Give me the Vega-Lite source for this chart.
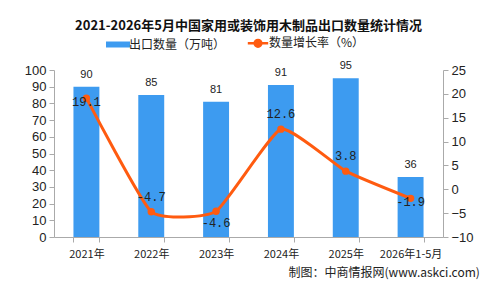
{
  "$schema": "https://vega.github.io/schema/vega-lite/v6.json",
  "width": 389,
  "height": 167,
  "autosize": {"type": "none"},
  "padding": {"left": 54, "top": 70, "right": 39, "bottom": 47},
  "background": "white",
  "config": {
    "view": {"stroke": null},
    "font": "Noto Sans CJK SC",
    "axis": {"grid": false, "domainColor": "#aaaaaa", "tickColor": "#aaaaaa", "labelColor": "#222222"}
  },
  "title": {
    "text": "2021-2026年5月中国家用或装饰用木制品出口数量统计情况",
    "font": "Noto Sans CJK SC",
    "fontSize": 13,
    "fontWeight": "bold",
    "color": "#111111",
    "anchor": "middle",
    "offset": 4
  },
  "data": {
    "values": [
      {"period": "2021年", "qty": 90, "rate": 19.1},
      {"period": "2022年", "qty": 85, "rate": -4.7},
      {"period": "2023年", "qty": 81, "rate": -4.6},
      {"period": "2024年", "qty": 91, "rate": 12.6},
      {"period": "2025年", "qty": 95, "rate": 3.8},
      {"period": "2026年1-5月", "qty": 36, "rate": -1.9}
    ]
  },
  "encoding": {
    "x": {
      "field": "period",
      "type": "nominal",
      "sort": null,
      "scale": {"paddingInner": 0.6, "paddingOuter": 0.3},
      "axis": {
        "labelAngle": 0,
        "labelFontSize": 11,
        "labelPadding": 6,
        "tickBand": "extent",
        "tickSize": 5,
        "title": "制图：中商情报网(www.askci.com)",
        "titleFontSize": 12,
        "titleFontWeight": "normal",
        "titleColor": "#222222",
        "titleAlign": "left",
        "titleAnchor": "start",
        "titleBaseline": "middle",
        "titleX": 234,
        "titleY": 35
      }
    }
  },
  "layer": [
    {
      "mark": {"type": "bar", "color": "#3D9BF0"},
      "encoding": {
        "y": {
          "field": "qty",
          "type": "quantitative",
          "scale": {"domain": [0, 100]},
          "axis": {"title": null, "values": [0, 10, 20, 30, 40, 50, 60, 70, 80, 90, 100], "labelFontSize": 13, "labelFont": "Liberation Sans", "tickSize": 5, "labelPadding": 3}
        },
        "color": {
          "datum": "出口数量（万吨）",
          "type": "nominal",
          "scale": {"domain": ["出口数量（万吨）", "数量增长率（%）"], "range": ["#3D9BF0", "#FF5B10"]},
          "legend": {
            "orient": "none",
            "legendX": 58,
            "legendY": -33,
            "direction": "horizontal",
            "title": null,
            "labelFontSize": 12,
            "labelColor": "#222222",
            "labelOffset": 5,
            "columnPadding": 16,
            "symbolSize": 576,
            "encode": {
              "symbols": {
                "update": {
                  "shape": {"signal": "datum.value == '出口数量（万吨）' ? 'M-1,-0.25H1V0.25H-1Z' : 'M-0.85,0H0.85M0.28,0A0.28,0.28 0 1,1 -0.28,0A0.28,0.28 0 1,1 0.28,0Z'"},
                  "fill": {"signal": "datum.value == '出口数量（万吨）' ? '#3D9BF0' : '#FF5B10'"},
                  "stroke": {"signal": "datum.value == '出口数量（万吨）' ? '#3D9BF0' : '#FF5B10'"},
                  "strokeWidth": {"signal": "datum.value == '出口数量（万吨）' ? 0 : 2.5"},
                  "opacity": {"value": 1}
                }
              }
            }
          }
        }
      }
    },
    {
      "mark": {"type": "text", "baseline": "bottom", "dy": -7, "fontSize": 11, "font": "Liberation Sans", "color": "#222222"},
      "encoding": {
        "y": {"field": "qty", "type": "quantitative", "scale": {"domain": [0, 100]}, "axis": null},
        "text": {"field": "qty", "type": "nominal"}
      }
    },
    {
      "mark": {"type": "line", "interpolate": "cardinal", "tension": 0.55, "strokeWidth": 3, "color": "#FF5B10"},
      "encoding": {
        "y": {
          "field": "rate",
          "type": "quantitative",
          "scale": {"domain": [-10, 25]},
          "axis": {"orient": "right", "title": null, "values": [-10, -5, 0, 5, 10, 15, 20, 25], "labelFontSize": 13, "labelFont": "Liberation Sans", "tickSize": 5, "labelPadding": 3}
        },
        "color": {"datum": "数量增长率（%）", "type": "nominal"}
      }
    },
    {
      "mark": {"type": "point", "filled": true, "size": 55, "opacity": 1, "color": "#FF5B10"},
      "encoding": {
        "y": {"field": "rate", "type": "quantitative", "scale": {"domain": [-10, 25]}, "axis": null}
      }
    },
    {
      "transform": [{"filter": {"field": "period", "oneOf": ["2022年", "2024年", "2025年"]}}],
      "mark": {"type": "text", "baseline": "middle", "dy": -15, "fontSize": 12, "font": "Liberation Mono", "color": "#222222"},
      "encoding": {
        "y": {"field": "rate", "type": "quantitative", "scale": {"domain": [-10, 25]}, "axis": null},
        "text": {"field": "rate", "type": "nominal"}
      }
    },
    {
      "transform": [{"filter": {"field": "period", "oneOf": ["2021年", "2026年1-5月"]}}],
      "mark": {"type": "text", "baseline": "middle", "dy": 4, "fontSize": 12, "font": "Liberation Mono", "color": "#222222"},
      "encoding": {
        "y": {"field": "rate", "type": "quantitative", "scale": {"domain": [-10, 25]}, "axis": null},
        "text": {"field": "rate", "type": "nominal"}
      }
    },
    {
      "transform": [{"filter": {"field": "period", "equal": "2023年"}}],
      "mark": {"type": "text", "baseline": "middle", "dy": 12, "fontSize": 12, "font": "Liberation Mono", "color": "#222222"},
      "encoding": {
        "y": {"field": "rate", "type": "quantitative", "scale": {"domain": [-10, 25]}, "axis": null},
        "text": {"field": "rate", "type": "nominal"}
      }
    }
  ],
  "resolve": {"scale": {"y": "independent"}}
}
